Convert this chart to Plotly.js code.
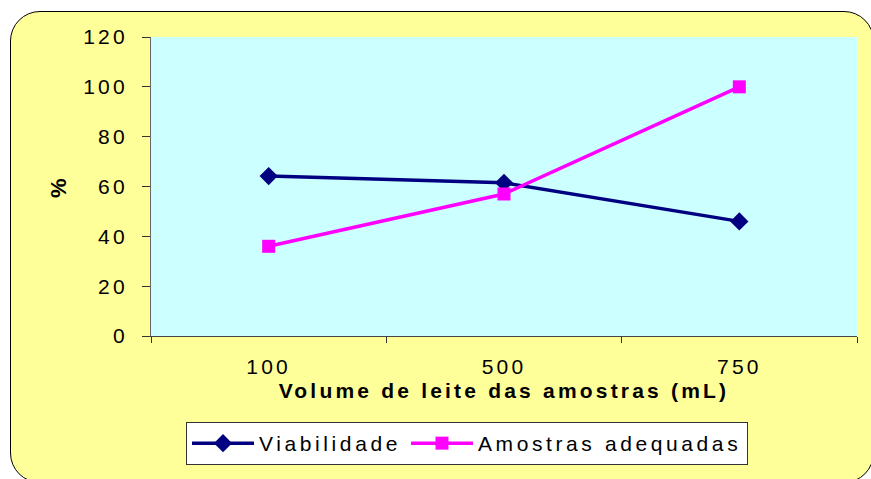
<!DOCTYPE html>
<html>
<head>
<meta charset="utf-8">
<script src="https://cdn.plot.ly/plotly-3.0.1.min.js"></script>
<style>
  html, body { margin: 0; padding: 0; background: #ffffff; }
  #frame {
    position: absolute; left: 10px; top: 11px;
    width: 864px; height: 472px; box-sizing: border-box;
    background: #FFFF99; border: 1.5px solid #000000; border-radius: 30px;
  }
  #chart { position: absolute; left: 0; top: 0; width: 871px; height: 479px; }
  svg text { letter-spacing: 3.2px; }
  svg text.legendtext { letter-spacing: 3.6px; }
</style>
</head>
<body>
<div id="frame"></div>
<div id="chart"></div>
<script>
// Milk sample volume (mL) categories
const volumes = ['100', '500', '750'];
// Percentages per volume
const viabilidade = [64.2, 61.5, 46];
const amostrasAdequadas = [36, 57, 100];
const yTicks = [0, 20, 40, 60, 80, 100, 120];

const baseFont = { family: 'Liberation Sans, Arial, sans-serif', size: 21, color: '#000000' };
const boldFont = Object.assign({}, baseFont, { weight: 'bold' });

const traces = [
  {
    x: volumes, y: viabilidade, name: 'Viabilidade',
    type: 'scatter', mode: 'lines+markers',
    line: { color: '#000080', width: 3.5 },
    marker: { symbol: 'diamond', size: 14, color: '#000080' }
  },
  {
    x: volumes, y: amostrasAdequadas, name: 'Amostras adequadas',
    type: 'scatter', mode: 'lines+markers',
    line: { color: '#FF00FF', width: 3.5 },
    marker: { symbol: 'square', size: 13, color: '#FF00FF' }
  }
];

const layout = {
  width: 871, height: 479,
  margin: { l: 151, r: 14, t: 37, b: 143 },
  paper_bgcolor: 'rgba(0,0,0,0)',
  plot_bgcolor: '#CCFFFF',
  font: baseFont,
  showlegend: true,
  legend: {
    orientation: 'h',
    x: 0.0496, xanchor: 'left',
    y: -0.2876, yanchor: 'top',
    bgcolor: '#ffffff', bordercolor: '#333333', borderwidth: 1,
    font: baseFont, itemwidth: 62
  },
  xaxis: {
    type: 'category',
    range: [-0.5, 2.5],
    tickson: 'boundaries',
    ticks: 'outside', ticklen: 6, tickcolor: '#333333',
    showline: true, linecolor: '#444444', linewidth: 1,
    showgrid: false, zeroline: false,
    ticklabelstandoff: 12,
    tickfont: baseFont,
    title: { text: 'Volume de leite das amostras (mL)', font: boldFont, standoff: 6 }
  },
  yaxis: {
    range: [0, 120],
    tickvals: yTicks,
    ticks: 'outside', ticklen: 8, tickcolor: '#333333',
    showline: true, linecolor: '#666666', linewidth: 1,
    showgrid: false, zeroline: false,
    ticklabelstandoff: 10,
    tickfont: baseFont,
    title: { text: '%', font: Object.assign({}, boldFont, { size: 22 }), standoff: 10 }
  }
};

Plotly.newPlot('chart', traces, layout, { displayModeBar: false, staticPlot: true });
</script>
</body>
</html>
